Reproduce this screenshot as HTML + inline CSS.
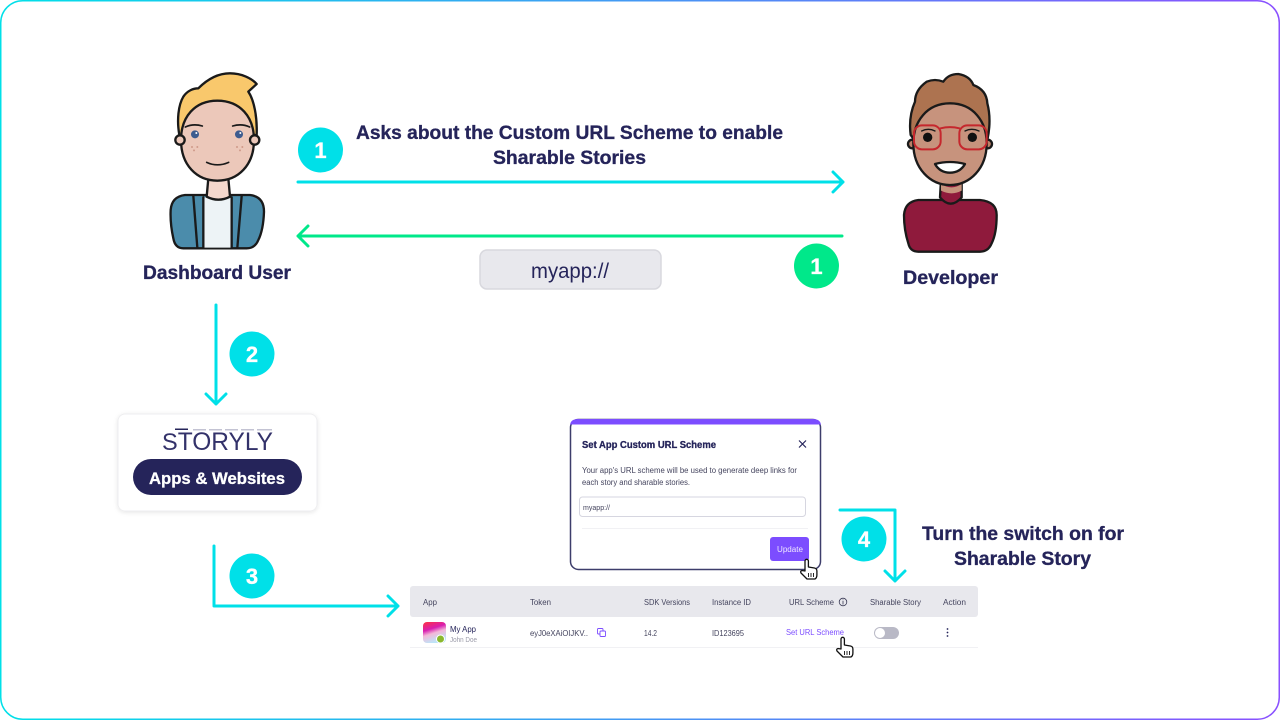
<!DOCTYPE html>
<html><head><meta charset="utf-8"><style>
html,body{margin:0;padding:0;background:#fff;width:1280px;height:720px;overflow:hidden}
svg{display:block}
text{font-family:"Liberation Sans",sans-serif;fill:#25245a}
.b{font-weight:700;stroke:#25245a;stroke-width:.3px}
.w{fill:#fff;stroke:#fff}
.t{font-size:8px;fill:#44445e}
</style></head><body>
<svg width="1280" height="720" viewBox="0 0 1280 720" xmlns="http://www.w3.org/2000/svg">
<defs>
<linearGradient id="bd" x1="0" y1="0" x2="1" y2="0"><stop offset="0" stop-color="#00e0e8"/><stop offset="1" stop-color="#8a50ff"/></linearGradient>
<linearGradient id="ic" x1="0" y1="0" x2=".35" y2="1"><stop offset="0" stop-color="#ff3040"/><stop offset=".4" stop-color="#d81fb0"/><stop offset=".62" stop-color="#f3b8d8"/><stop offset="1" stop-color="#bfe4f8"/></linearGradient>
<filter id="sh" x="-10%" y="-10%" width="120%" height="125%"><feDropShadow dx="0" dy="1" stdDeviation="2" flood-color="#000" flood-opacity=".1"/></filter>
<g id="hand"><path d="M5 13V3a1.7 1.7 0 0 1 3.400 0V9l6 1q2.500.5 2.500 3v4q0 3-2 4H7L1 15q-1-2 1-2.500z" fill="#fff" stroke="#111" stroke-width="1.300" stroke-linejoin="round"/><path d="M8.500 15v4M11 15v4M13.500 15v4" stroke="#111" stroke-width=".9" fill="none"/></g>
</defs>
<rect x=".75" y=".75" width="1278.500" height="718.500" rx="22" fill="#fff" stroke="url(#bd)" stroke-width="1.500"/>

<!-- Dashboard user -->
<g transform="translate(140 60) scale(.33333)" stroke="#1a1a1a" stroke-width="7" stroke-linejoin="round" stroke-linecap="round">
<path d="M135 405H330Q372 410 372 455Q370 510 355 540Q345 565 320 565H130Q105 565 100 535Q90 490 92 450Q95 410 135 405Z" fill="#4b8cab"/>
<path d="M190 412H275V563H190Z" fill="#edf3f6" stroke="none"/>
<path d="M160 408L172 563M190 412L190 563M305 408L292 563M275 412V563" fill="none"/>
<path d="M205 355L200 410Q235 428 270 410L265 355Z" fill="#f5d8cd"/>
<path d="M118 225C110 180 115 135 130 110C142 92 160 85 175 85C205 55 235 40 270 40C305 40 335 55 350 72L325 95C342 120 352 170 350 225Z" fill="#f9c86c"/>
<path d="M232 122C165 122 123 170 123 240C123 315 170 362 232 362C295 362 342 315 342 240C342 170 300 122 232 122Z" fill="#ecc8ba"/>
<circle cx="120" cy="240" r="14" fill="#ecc8ba"/><circle cx="344" cy="240" r="14" fill="#ecc8ba"/>
<path d="M136 201Q160 190 187 198M278 198Q305 190 329 201" fill="none" stroke-width="5"/>
<path d="M200 307Q232 322 266 307" fill="none" stroke-width="5"/>
<g stroke="none"><circle cx="165" cy="223" r="12" fill="#3d5c8f"/><circle cx="297" cy="223" r="12" fill="#3d5c8f"/><circle cx="169" cy="219" r="3" fill="#fff"/><circle cx="301" cy="219" r="3" fill="#fff"/>
<g fill="#cf9a8a"><circle cx="156" cy="261" r="3"/><circle cx="172" cy="261" r="3"/><circle cx="162" cy="271" r="3"/><circle cx="291" cy="261" r="3"/><circle cx="307" cy="261" r="3"/><circle cx="300" cy="271" r="3"/></g></g>
</g>

<!-- Developer -->
<g transform="translate(880 60) scale(.33333)" stroke="#1a1a1a" stroke-width="7" stroke-linejoin="round" stroke-linecap="round">
<path d="M115 420H300Q350 425 350 465Q350 520 335 550Q325 575 300 575H115Q90 575 85 550Q72 510 72 465Q75 425 115 420Z" fill="#8f1a3c"/>
<path d="M183 360L180 412Q212 450 245 412L245 360Z" fill="#8f1a3c"/>
<path d="M183 372Q215 392 245 372L245 392Q215 408 183 392Z" fill="#c7937d" stroke="none"/>
<path d="M92 225Q85 170 105 125Q105 90 140 65Q165 55 190 65Q205 42 235 42Q270 48 280 75Q320 90 322 130Q335 180 322 240L300 250H110Z" fill="#ad7350"/>
<circle cx="97" cy="252" r="13" fill="#b98069"/><circle cx="323" cy="252" r="13" fill="#b98069"/>
<path d="M210 130C140 130 100 185 100 250C100 325 150 375 210 375C270 375 320 325 320 250C320 185 280 130 210 130Z" fill="#c7937d"/>
<path d="M125 213Q145 203 165 213M255 213Q275 203 297 213" fill="none" stroke-width="4"/>
<circle cx="143" cy="232" r="14" fill="#111" stroke="none"/><circle cx="277" cy="232" r="14" fill="#111" stroke="none"/>
<path d="M165 312Q210 300 255 312Q240 338 210 338Q180 338 165 312Z" fill="#fff"/>
<g fill="none" stroke="#c5272d" stroke-width="6"><rect x="102" y="196" width="80" height="72" rx="24"/><rect x="238" y="196" width="82" height="72" rx="24"/><path d="M182 205Q210 198 238 205"/></g>
</g>

<!-- Arrows -->
<g fill="none" stroke="#00e0e8" stroke-width="3" stroke-linecap="round" stroke-linejoin="round">
<path d="M298 182H843M833 172L843 182L833 192"/>
<path d="M216 305V404M206 394L216 404L226 394"/>
<path d="M214 546V606H398M388 596L398 606L388 616"/>
<path d="M840 510H895V581M885 571L895 581L905 571"/>
</g>
<path d="M842 236H298M308 226L298 236L308 246" fill="none" stroke="#00e88a" stroke-width="3" stroke-linecap="round" stroke-linejoin="round"/>

<!-- Badges -->
<circle cx="320.500" cy="150" r="22.500" fill="#00e0e8"/>
<circle cx="816.500" cy="266" r="22.500" fill="#00e88a"/>
<circle cx="252" cy="354" r="22.500" fill="#00e0e8"/>
<circle cx="252" cy="576" r="22.500" fill="#00e0e8"/>
<circle cx="864" cy="539" r="22.500" fill="#00e0e8"/>
<g font-size="22" text-anchor="middle">
<text class="b w" x="320.500" y="158">1</text>
<text class="b w" x="816.500" y="274">1</text>
<text class="b w" x="252" y="362">2</text>
<text class="b w" x="252" y="584">3</text>
<text class="b w" x="864" y="547">4</text>
</g>

<!-- Labels -->
<text class="b" x="356" y="139" font-size="19" textLength="427" lengthAdjust="spacingAndGlyphs">Asks about the Custom URL Scheme to enable</text>
<text class="b" x="493" y="164" font-size="19" textLength="153" lengthAdjust="spacingAndGlyphs">Sharable Stories</text>
<text class="b" x="143" y="279" font-size="19" textLength="148" lengthAdjust="spacingAndGlyphs">Dashboard User</text>
<text class="b" x="903" y="284" font-size="19" textLength="95" lengthAdjust="spacingAndGlyphs">Developer</text>
<text class="b" x="922" y="540" font-size="19" textLength="202" lengthAdjust="spacingAndGlyphs">Turn the switch on for</text>
<text class="b" x="954" y="565" font-size="19" textLength="137" lengthAdjust="spacingAndGlyphs">Sharable Story</text>

<rect x="480" y="250" width="181" height="39" rx="7" fill="#e8e8ed" stroke="#d8d8de" stroke-width="1.500"/>
<text x="531" y="278" font-size="21" textLength="78" lengthAdjust="spacingAndGlyphs">myapp://</text>

<!-- Storyly card -->
<rect x="118" y="414" width="199" height="97" rx="7" fill="#fff" stroke="#eeeef0" filter="url(#sh)"/>
<g fill="#c3c3d3"><rect x="193" y="429" width="13" height="1.500"/><rect x="209" y="429" width="13" height="1.500"/><rect x="225" y="429" width="13" height="1.500"/><rect x="241" y="429" width="13" height="1.500"/><rect x="257" y="429" width="15" height="1.500"/></g>
<rect x="175" y="428.500" width="13" height="1.500" fill="#25245a"/>
<text x="162" y="450" textLength="111" lengthAdjust="spacingAndGlyphs" style="fill:#33326a"><tspan font-size="24">S</tspan><tspan font-size="25">TORYLY</tspan></text>
<rect x="133" y="459" width="169" height="36" rx="18" fill="#25245a"/>
<text class="b w" x="149" y="484" font-size="17" textLength="136" lengthAdjust="spacingAndGlyphs">Apps &amp; Websites</text>

<!-- Modal -->
<rect x="570.500" y="419.500" width="250" height="150" rx="8" fill="#fff" stroke="#3d3d6b" stroke-width="1.500"/>
<path d="M570 424.500V426Q570 419 578 419H813Q821 419 821 426V424.500Z" fill="#7c4dff"/>
<text class="b" x="582" y="448" font-size="10" textLength="134" lengthAdjust="spacingAndGlyphs">Set App Custom URL Scheme</text>
<path d="M799 440.500L806 447.500M806 440.500L799 447.500" stroke="#25245a" stroke-width="1.200" fill="none"/>
<text class="t" x="582" y="473" textLength="215" lengthAdjust="spacingAndGlyphs">Your app's URL scheme will be used to generate deep links for</text>
<text class="t" x="582" y="485" textLength="108" lengthAdjust="spacingAndGlyphs">each story and sharable stories.</text>
<rect x="579.500" y="497" width="226" height="19.500" rx="3" fill="#fff" stroke="#d6d6e0"/>
<text x="583" y="510" font-size="7" textLength="27" lengthAdjust="spacingAndGlyphs" style="fill:#44445e">myapp://</text>
<rect x="582" y="528" width="226" height="1" fill="#f1f1f4"/>
<rect x="770" y="537" width="39" height="24" rx="3" fill="#7c4dff"/>
<text x="777" y="552" font-size="8" textLength="26" lengthAdjust="spacingAndGlyphs" style="fill:#eee6ff">Update</text>
<use href="#hand" x="800" y="558"/>

<!-- Table -->
<rect x="410" y="586" width="568" height="31" rx="3" fill="#e8e8ed"/>
<rect x="410" y="647" width="568" height="1" fill="#f1f1f4"/>
<text class="t" x="423" y="605" textLength="14" lengthAdjust="spacingAndGlyphs">App</text>
<text class="t" x="530" y="605" textLength="21" lengthAdjust="spacingAndGlyphs">Token</text>
<text class="t" x="644" y="605" textLength="46" lengthAdjust="spacingAndGlyphs">SDK Versions</text>
<text class="t" x="712" y="605" textLength="39" lengthAdjust="spacingAndGlyphs">Instance ID</text>
<text class="t" x="789" y="605" textLength="45" lengthAdjust="spacingAndGlyphs">URL Scheme</text>
<circle cx="843" cy="602" r="3.800" fill="none" stroke="#3a3a55" stroke-width=".8"/><path d="M843 601V604.500M843 599.500V600.300" stroke="#3a3a55" stroke-width=".8"/>
<text class="t" x="870" y="605" textLength="51" lengthAdjust="spacingAndGlyphs">Sharable Story</text>
<text class="t" x="943" y="605" textLength="23" lengthAdjust="spacingAndGlyphs">Action</text>

<rect x="423" y="622" width="23" height="21" rx="4" fill="url(#ic)"/>
<circle cx="440.500" cy="639" r="4" fill="#8ab82e" stroke="#fff" stroke-width="1"/>
<text x="450" y="632" font-size="8" textLength="26" lengthAdjust="spacingAndGlyphs" style="fill:#25245a">My App</text>
<text x="450" y="642" font-size="7" textLength="27" lengthAdjust="spacingAndGlyphs" style="fill:#9a9aa8">John Doe</text>
<text class="t" x="530" y="636" textLength="58" lengthAdjust="spacingAndGlyphs">eyJ0eXAiOIJKV..</text>
<g fill="none" stroke="#7c4dff" stroke-width=".9"><rect x="597.500" y="628.500" width="5.500" height="5.500" rx="1"/><rect x="600" y="631" width="5.500" height="5.500" rx="1" fill="#fff"/></g>
<text class="t" x="644" y="636" textLength="13" lengthAdjust="spacingAndGlyphs">14.2</text>
<text class="t" x="712" y="636" textLength="32" lengthAdjust="spacingAndGlyphs">ID123695</text>
<text x="786" y="635" font-size="8" textLength="58" lengthAdjust="spacingAndGlyphs" style="fill:#7c4dff">Set URL Scheme</text>
<rect x="874" y="627" width="25" height="12" rx="6" fill="#b9b9c6"/>
<circle cx="880" cy="633" r="5" fill="#fff"/>
<g fill="#25245a"><circle cx="947.500" cy="629" r=".9"/><circle cx="947.500" cy="632.500" r=".9"/><circle cx="947.500" cy="636" r=".9"/></g>
<use href="#hand" x="836" y="636"/>
</svg>
</body></html>
